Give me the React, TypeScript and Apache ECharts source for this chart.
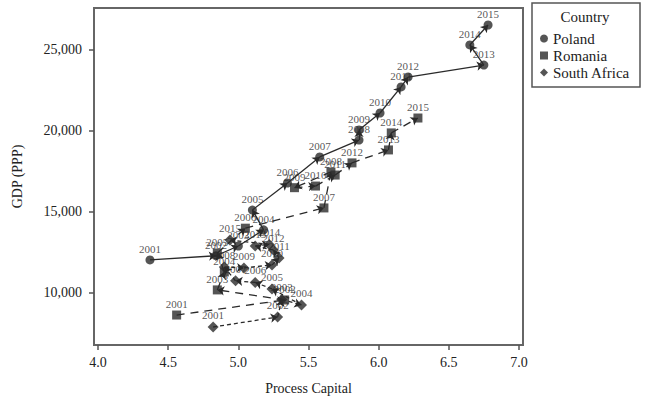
import React, { useEffect, useRef } from "react";
import * as echarts from "echarts";

const years = [2001, 2002, 2003, 2004, 2005, 2006, 2007, 2008, 2009, 2010, 2011, 2012, 2013, 2014, 2015];

const polandCapital = [4.37, 4.84, 5.0, 5.18, 5.1, 5.35, 5.58, 5.86, 5.86, 6.01, 6.16, 6.21, 6.75, 6.65, 6.78];
const polandGdp = [12040, 12300, 12900, 13900, 15120, 16790, 18400, 19440, 20060, 21110, 22720, 23330, 24070, 25310, 26540];

const romaniaCapital = [4.56, 5.33, 4.85, 4.9, 4.85, 5.05, 5.61, 5.66, 5.4, 5.55, 5.69, 5.81, 6.07, 6.09, 6.28];
const romaniaGdp = [8640, 9570, 10190, 11300, 12470, 14000, 15250, 17470, 16500, 16600, 17280, 18030, 18830, 19880, 20800];

const safricaCapital = [4.82, 5.28, 5.31, 5.45, 5.24, 5.12, 4.98, 4.9, 5.04, 5.24, 5.29, 5.25, 5.12, 5.22, 4.94];
const safricaGdp = [7900, 8520, 9600, 9260, 10250, 10650, 10750, 11600, 11550, 11730, 12160, 12650, 12900, 13000, 13270];

const xTicks = [4.0, 4.5, 5.0, 5.5, 6.0, 6.5, 7.0];
const yTicks = [10000, 15000, 20000, 25000];

const countries = [
  { name: "Poland", cap: polandCapital, gdp: polandGdp, symbol: "circle", size: 9, dash: "solid" as any },
  { name: "Romania", cap: romaniaCapital, gdp: romaniaGdp, symbol: "rect", size: 9, dash: [8, 6] as any },
  { name: "South Africa", cap: safricaCapital, gdp: safricaGdp, symbol: "diamond", size: 11, dash: [4, 3] as any },
];

const INK = "#2a2a2a";
const SERIF = "'Liberation Serif', 'Times New Roman', serif";

function buildOption() {
  const series: any[] = [];
  countries.forEach((c) => {
    const segs: any[] = [];
    for (let i = 0; i < years.length - 1; i++) {
      segs.push({ coords: [[c.cap[i], c.gdp[i]], [c.cap[i + 1], c.gdp[i + 1]]] });
    }
    series.push({
      type: "lines",
      coordinateSystem: "cartesian2d",
      name: c.name + "-path",
      data: segs,
      symbol: ["none", "arrow"],
      symbolSize: 7,
      lineStyle: { color: INK, width: 1.3, type: c.dash, opacity: 1 },
      z: 2,
      silent: true,
    });
  });
  countries.forEach((c) => {
    series.push({
      type: "scatter",
      name: c.name,
      symbol: c.symbol,
      symbolSize: c.size,
      itemStyle: { color: INK },
      data: years.map((y, i) => [c.cap[i], c.gdp[i], y]),
      label: {
        show: true,
        position: "top",
        distance: 1,
        formatter: (p: any) => String(p.value[2]),
        fontFamily: SERIF,
        fontSize: 11,
        color: "#2a2a2a",
        textBorderWidth: 0,
        textBorderColor: "transparent",
        textShadowBlur: 0,
      },
      labelLayout: { hideOverlap: false },
      z: 3,
    });
  });

  return {
    animation: false,
    backgroundColor: "#fff",
    grid: {
      left: 94,
      right: 122,
      top: 8,
      bottom: 55,
      show: true,
      borderColor: "#666",
      borderWidth: 2,
      backgroundColor: "transparent",
    },
    xAxis: {
      type: "value",
      min: 3.971,
      max: 7.029,
      name: "Process Capital",
      nameLocation: "middle",
      nameGap: 36,
      nameTextStyle: { fontFamily: SERIF, fontSize: 14, color: "#222" },
      axisLine: { show: true, lineStyle: { color: "#666", width: 2 } },
      axisTick: { show: true, customValues: xTicks, length: 5, lineStyle: { color: "#555", width: 1.5 } },
      axisLabel: {
        customValues: xTicks,
        margin: 10,
        fontFamily: SERIF,
        fontSize: 14,
        color: "#222",
        formatter: (v: number) => v.toFixed(1),
      },
      splitLine: { show: false },
    },
    yAxis: {
      type: "value",
      min: 6790,
      max: 27590,
      name: "GDP (PPP)",
      nameLocation: "middle",
      nameGap: 70,
      nameTextStyle: { fontFamily: SERIF, fontSize: 14, color: "#222" },
      axisLine: { show: true, lineStyle: { color: "#666", width: 2 } },
      axisTick: { show: true, customValues: yTicks, length: 5, lineStyle: { color: "#555", width: 1.5 } },
      axisLabel: {
        customValues: yTicks,
        margin: 12,
        fontFamily: SERIF,
        fontSize: 14,
        color: "#222",
        formatter: (v: number) => v.toLocaleString("en-US"),
      },
      splitLine: { show: false },
    },
    legend: {
      data: countries.map((c) => c.name),
      orient: "vertical",
      left: 535,
      top: 26,
      itemGap: 2,
      itemWidth: 8,
      itemHeight: 8,
      textStyle: { fontFamily: SERIF, fontSize: 15, color: "#222" },
      selectedMode: false,
    },
    graphic: [
      {
        type: "rect",
        shape: { x: 532, y: 3, width: 108, height: 84 },
        style: { fill: "none", stroke: "#555", lineWidth: 1.5 },
        silent: true,
      },
      {
        type: "text",
        x: 585,
        y: 17,
        style: {
          text: "Country",
          fontFamily: SERIF,
          fontSize: 15,
          fill: "#222",
          align: "center",
          verticalAlign: "middle",
        },
        silent: true,
      },
    ],
    series,
  };
}

export default function App() {
  const ref = useRef<HTMLDivElement>(null);
  useEffect(() => {
    const chart = echarts.init(ref.current!, null, { renderer: "svg" });
    chart.setOption(buildOption() as any);
    return () => chart.dispose();
  }, []);
  return (
    <div
      ref={ref}
      style={{ position: "absolute", left: 0, top: 0, width: 645, height: 400 }}
    />
  );
}
